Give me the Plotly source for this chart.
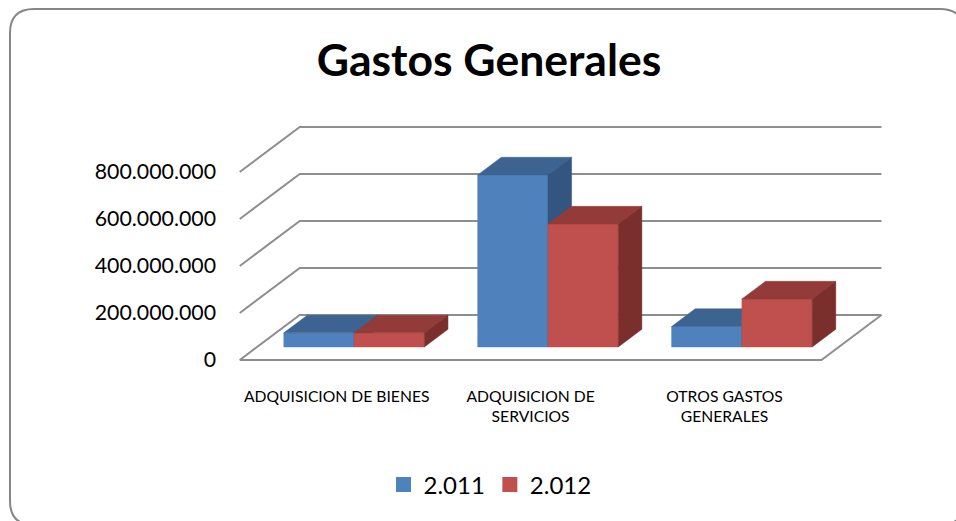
import plotly.graph_objects as go

categories = ["ADQUISICION DE BIENES", "ADQUISICION DE<br>SERVICIOS", "OTROS GASTOS<br>GENERALES"]
series_names = ["2.011", "2.012"]
values_2011 = [60000000, 732000000, 87000000]
values_2012 = [60000000, 523000000, 204000000]
y_ticks = [0, 200000000, 400000000, 600000000, 800000000]

W, H = 956, 521
L, R, T, B = 222, 890, 100, 372           # plot area, px
PX_CAT = 193.9                            # px per category
PX_VAL = 47 / 200000000                   # px per unit of value
CAT0_PX = 336.7
DEPTH_X = 60 / PX_CAT                     # oblique projection of the depth axis
DEPTH_Y = 45 / PX_VAL
Z0, Z1 = 0.29, 0.683                      # bar front and back planes
BAR_W = 0.3625
BASE = 360

def px(c, z=0):
    return c + z * DEPTH_X

def py(v, z=0):
    return v + z * DEPTH_Y

def face(points):
    return [px(c, z) for c, v, z in points] + [None], [py(v, z) for c, v, z in points] + [None]

def add_faces(fig, rects, color):
    xs, ys = [], []
    for pts in rects:
        a, b = face(pts)
        xs += a
        ys += b
    fig.add_trace(go.Scatter(x=xs, y=ys, mode="lines", fill="toself", fillcolor=color,
                             line=dict(color=color, width=0.5), hoverinfo="skip", showlegend=False))

fig = go.Figure()

# floor and walls, projected from the axis ticks
line_c = "#8e8e8e"
c_min, c_max = -0.5, len(categories) - 0.5
gx, gy = [], []
for v in y_ticks:
    gx += [px(c_min), px(c_min, 1), px(c_max, 1), None]
    gy += [py(v), py(v, 1), py(v, 1), None]
gx += [px(c_min), px(c_max), px(c_max, 1)]
gy += [py(0), py(0), py(0, 1)]
fig.add_trace(go.Scatter(x=gx, y=gy, mode="lines", line=dict(color=line_c, width=2),
                         hoverinfo="skip", showlegend=False))

styles = [("#4F81BD", "#3D6491", "#33557F"), ("#C0504D", "#923B39", "#7A2F2D")]
for s, vals in enumerate([values_2011, values_2012]):
    front, top, side = [], [], []
    for i, v in enumerate(vals):
        x0 = i + (s - 1) * BAR_W
        x1 = x0 + BAR_W
        front.append([(x0, 0, Z0), (x1, 0, Z0), (x1, v, Z0), (x0, v, Z0), (x0, 0, Z0)])
        top.append([(x0, v, Z0), (x1, v, Z0), (x1, v, Z1), (x0, v, Z1), (x0, v, Z0)])
        side.append([(x1, 0, Z0), (x1, 0, Z1), (x1, v, Z1), (x1, v, Z0), (x1, 0, Z0)])
    add_faces(fig, front, styles[s][0])
    add_faces(fig, top, styles[s][1])
    add_faces(fig, side, styles[s][2])
    fig.add_trace(go.Scatter(x=[None], y=[None], mode="markers", name=series_names[s],
                             marker=dict(symbol="square", size=15, color=styles[s][0])))

def fx(p):
    return (p - L) / (R - L)

def fy(p):
    return (B - p) / (B - T)

r = 24
bl, bt, br, bb = 10, 9, 964, 525
border = (f"M {fx(bl)},{fy(bt + r)} Q {fx(bl)},{fy(bt)} {fx(bl + r)},{fy(bt)} "
          f"L {fx(br - r)},{fy(bt)} Q {fx(br)},{fy(bt)} {fx(br)},{fy(bt + r)} "
          f"L {fx(br)},{fy(bb - r)} Q {fx(br)},{fy(bb)} {fx(br - r)},{fy(bb)} "
          f"L {fx(bl + r)},{fy(bb)} Q {fx(bl)},{fy(bb)} {fx(bl)},{fy(bb - r)} Z")

FONT = "Lato, Carlito, sans-serif"
fig.update_layout(
    width=W, height=H, autosize=False,
    margin=dict(l=L, r=W - R, t=T, b=H - B, pad=0),
    paper_bgcolor="white", plot_bgcolor="rgba(0,0,0,0)",
    separators=",.",
    font=dict(family=FONT, color="black"),
    title=dict(text="<b>Gastos Generales</b>", font=dict(size=44.5, family=FONT, color="black"),
               x=489 / W, y=1 - 60 / H, xanchor="center", yanchor="middle", xref="container", yref="container"),
    xaxis=dict(range=[(L - CAT0_PX) / PX_CAT, (R - CAT0_PX) / PX_CAT], tickmode="array",
               tickvals=list(range(len(categories))), ticktext=categories,
               showgrid=False, zeroline=False, showline=False, ticks="outside", ticklen=10,
               tickcolor="rgba(0,0,0,0)", tickfont=dict(size=15.7, family=FONT), tickangle=0),
    yaxis=dict(range=[(BASE - B) / PX_VAL, (BASE - T) / PX_VAL], tickmode="array", tickvals=y_ticks,
               tickformat=",d", showgrid=False, zeroline=False, showline=False, ticks="", ticklabelstandoff=5,
               tickfont=dict(size=21.3, family=FONT)),
    legend=dict(orientation="h", x=fx(490), y=fy(485), xanchor="center", yanchor="middle",
                font=dict(size=24, family=FONT), bgcolor="rgba(0,0,0,0)", itemclick=False, itemdoubleclick=False),
    shapes=[dict(type="path", xref="paper", yref="paper", path=border, line=dict(color="#868686", width=2),
                 fillcolor="rgba(0,0,0,0)", layer="below")],
)
fig.write_html("out.html", config={"displayModeBar": False},
               post_script="document.body.style.margin='0';document.body.style.overflow='hidden';")
